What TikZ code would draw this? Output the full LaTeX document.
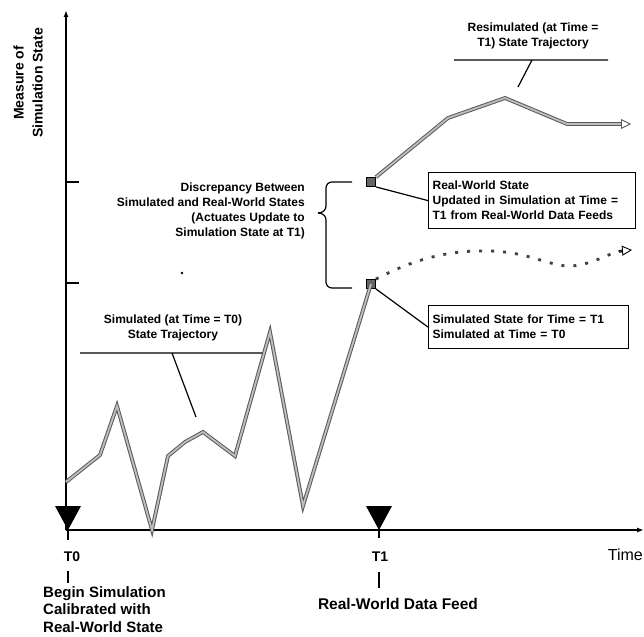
\documentclass[tikz,border=0pt]{standalone}
\usepackage{fontspec}
\setmainfont{Liberation Sans}
\usetikzlibrary{arrows.meta,positioning}

\tikzset{
	traj/.style={draw=black!65, line width=1pt, double=black!25, double distance=1.8pt},
	dotted traj/.style={draw=black!75, line width=2.8pt, dash pattern=on 3pt off 9pt},
	open tip/.style={-{Triangle[open, length=10pt, width=10pt, line width=0.9pt]}},
	small text/.style={font=\bfseries\fontsize{12}{15}\selectfont, inner sep=0pt},
	big text/.style={font=\bfseries\fontsize{15}{17.5}\selectfont, inner sep=0pt},
	state box/.style={draw, line width=1.2pt, align=left, small text, inner xsep=4pt, minimum height=56pt},
	marker/.style={draw=black, fill=black!60, line width=0.8pt, minimum size=9pt, inner sep=0pt}
}

\begin{document}
\begin{tikzpicture}[x=1pt, y=-1pt]
	\useasboundingbox (0,0) rectangle (644,636);
	\coordinate (origin) at (66,530);
	\coordinate (y top) at (66,10);
	\coordinate (x end) at (644,530);
	\draw[line width=1.5pt, -{Latex[length=7pt, width=5pt]}] (origin) -- (y top);
	\draw[line width=1.5pt, -{Latex[length=7pt, width=5pt]}] (origin) -- (x end);
	\draw[line width=1.5pt] (66,182) -- (79,182) (66,283) -- (79,283);
	\node[big text, rotate=90, align=center, font=\bfseries\fontsize{14}{19}\selectfont] (y label) at (28,83) {Measure of\\Simulation State};
	\node[anchor=east, font=\fontsize{16}{18}\selectfont, inner sep=0pt] (time) at (643,555) {Time};

	\node[marker] (real state) at (371,182) {};
	\node[marker] (sim state) at (371,284) {};

	\draw[traj] (66,482) -- (100,455) -- (117,406) -- (152,530) -- (168,456) -- (185,442) -- (203,432) -- (235,456) -- (270,332) -- (303,506) -- (sim state.center);
	\draw[traj, open tip] (real state.north east) -- (448,118) -- (505,98) -- (567,124) -- (631,124);
	\draw[dotted traj] (sim state.north east) .. controls (420,256) and (455,250) .. (490,251) .. controls (530,252) and (550,267) .. (572,266) .. controls (595,264) and (610,252) .. (622,251);
	\draw[line width=0.9pt, -{Triangle[open, length=10pt, width=10pt, line width=0.9pt]}] (618,251) -- (632,250);

	\node[state box, text width=199pt, anchor=north west] (real box) at (428,172) {Real-World State\\Updated in Simulation at Time =\\T1 from Real-World Data Feeds};
	\node[state box, text width=192pt, minimum height=43pt, anchor=north west] (sim box) at (428,305) {Simulated State for Time = T1\\Simulated at Time = T0};
	\draw[line width=1.2pt] (real state.south east) -- (real box.west);
	\draw[line width=1.2pt] (sim state.south east) -- (sim box.west);

	\node[small text, align=right, anchor=east] (gap text) at (305,211) {Discrepancy Between\\Simulated and Real-World States\\(Actuates Update to\\Simulation State at T1)};
	\draw[line width=1.2pt, rounded corners=6pt] (352,182) -- (326,182) -- (326,212) -- (318,213);
	\draw[line width=1.2pt, rounded corners=6pt] (318,213) -- (326,214) -- (326,288) -- (352,288);
	\fill (182,273) circle (1.3pt);

	\node[small text, align=center] (resim text) at (533,36) {Resimulated (at Time =\\T1) State Trajectory};
	\coordinate (resim left) at (454,60);
	\coordinate (resim right) at (608,60);
	\draw[line width=1.2pt] (resim left) -- (resim right) (532,60) -- (518,87);

	\node[small text, align=center] (sim text) at (173,328) {Simulated (at Time = T0)\\State Trajectory};
	\coordinate (sim left) at (80,353);
	\coordinate (sim right) at (262,353);
	\draw[line width=1.2pt] (sim left) -- (sim right) (172,353) -- (196,417);

	\coordinate (t0) at (68,530);
	\coordinate (t1) at (379,530);
	\fill (t0) -- ++(-13,-24) -- ++(26,0) -- cycle;
	\fill (t1) -- ++(-13,-24) -- ++(26,0) -- cycle;
	\draw[line width=1.2pt] (t0) -- ++(0,10) (t1) -- ++(0,8);

	\node[big text, font=\bfseries\fontsize{14}{16}\selectfont] (t0 text) at (72,557) {T0};
	\draw[line width=1.4pt] (68,571) -- (68,583);
	\node[big text, align=left, anchor=north west] (t0 note) at (43,586) {Begin Simulation\\Calibrated with\\Real-World State};
	\node[big text, font=\bfseries\fontsize{14}{16}\selectfont] (t1 text) at (380,557) {T1};
	\draw[line width=1.4pt] (379,572) -- (379,588);
	\node[big text, font=\bfseries\fontsize{15.5}{18}\selectfont] (t1 note) at (398,604) {Real-World Data Feed};
\end{tikzpicture}
\end{document}
